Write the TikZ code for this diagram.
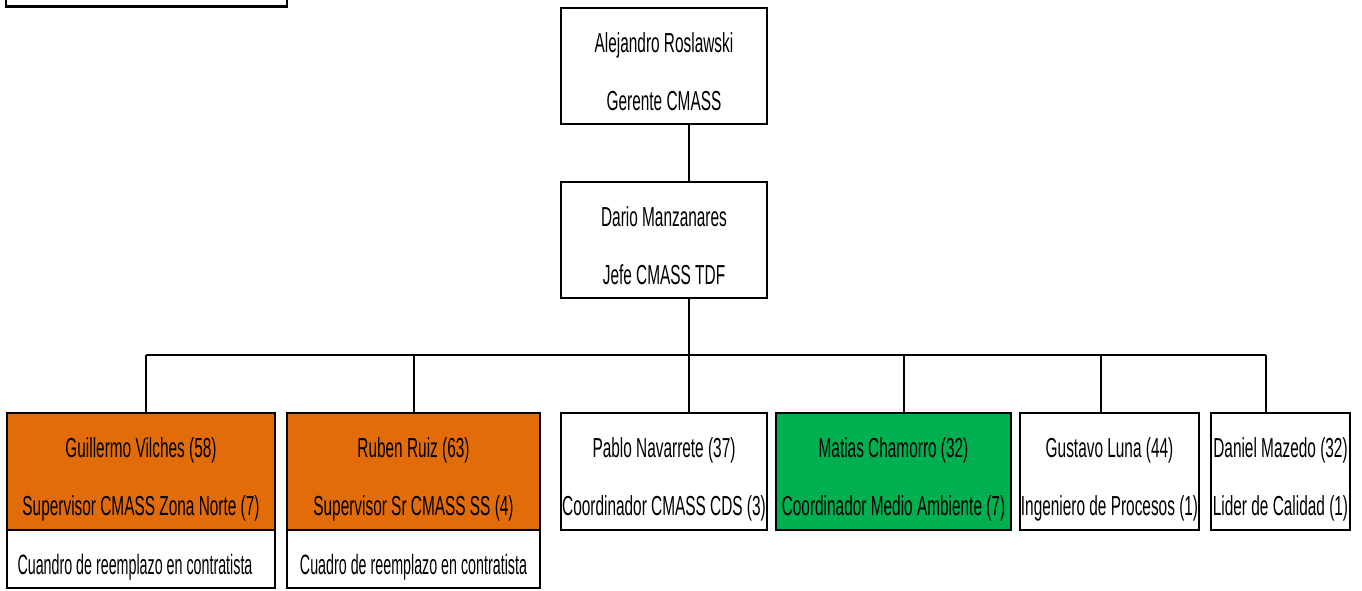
\documentclass[tikz,border=0pt]{standalone}
\usepackage{fontspec}
\usetikzlibrary{calc}
\setmainfont[FakeStretch=0.56]{Liberation Sans}
\newfontfamily\narrowsans[FakeStretch=0.51]{Liberation Sans}
\definecolor{orgorange}{HTML}{E36C0A}
\definecolor{orggreen}{HTML}{00B050}
\begin{document}
\begin{tikzpicture}[x=1pt,y=-1pt,
  orgbox/.style={draw=black, line width=2.6pt, fill=white, inner sep=0pt},
  txt/.style={anchor=base, inner sep=0pt, font=\fontsize{27.5}{30}\selectfont},
  subtxt/.style={txt, font=\narrowsans\fontsize{28}{30}\selectfont},
  conn/.style={draw=black, line width=1.8pt}]
\useasboundingbox (0,0) rectangle (1362,590);
\fill[white] (0,0) rectangle (1362,590);
% partial box at top left
\draw[line width=2.6pt] (6,-3) -- (6,6.5) -- (287,6.5) -- (287,-3);
% boxes
\node[orgbox, minimum width=206pt, minimum height=116pt] (a) at (664,66) {};
\node[orgbox, minimum width=206pt, minimum height=116pt] (b) at (664,240) {};
\node[orgbox, fill=orgorange, minimum width=268pt, minimum height=117pt] (g) at (141,471.5) {};
\node[orgbox, minimum width=268pt, minimum height=58pt] (gs) at (141,559) {};
\node[orgbox, fill=orgorange, minimum width=253pt, minimum height=117pt] (r) at (413.5,471.5) {};
\node[orgbox, minimum width=253pt, minimum height=58pt] (rs) at (413.5,559) {};
\node[orgbox, minimum width=206pt, minimum height=117pt] (p) at (664,471.5) {};
\node[orgbox, fill=orggreen, minimum width=235pt, minimum height=117pt] (m) at (893.5,471.5) {};
\node[orgbox, minimum width=179pt, minimum height=117pt] (u) at (1109.5,471.5) {};
\node[orgbox, minimum width=139pt, minimum height=117pt] (d) at (1280.5,471.5) {};
% texts
\foreach \n/\first/\second in {
  a/Alejandro Roslawski/Gerente CMASS,
  b/Dario Manzanares/Jefe CMASS TDF,
  g/Guillermo Vilches (58)/Supervisor CMASS Zona Norte (7),
  r/Ruben Ruiz (63)/Supervisor Sr CMASS SS (4),
  p/Pablo Navarrete (37)/Coordinador CMASS CDS (3),
  m/Matias Chamorro (32)/Coordinador Medio Ambiente (7),
  u/Gustavo Luna (44)/Ingeniero de Procesos (1),
  d/Daniel Mazedo (32)/Lider de Calidad (1)}{
  \node[txt] (\n1) at ($(\n.north)+(0,46)$) {\first};
  \node[txt] (\n2) at ($(\n.north)+(0,104)$) {\second};
}
\node[subtxt] (gs1) at ($(gs.north)+(-6,46)$) {Cuandro de reemplazo en contratista};
\node[subtxt] (rs1) at ($(rs.north)+(0,46)$) {Cuadro de reemplazo en contratista};
% connector points
\coordinate (ab) at (689,124);
\coordinate (jg) at (146,355);
\coordinate (jr) at (414,355);
\coordinate (jp) at (689,355);
\coordinate (jm) at (904,355);
\coordinate (ju) at (1101,355);
\coordinate (jd) at (1266,355);
\draw[conn] (a.south -| ab) -- (b.north -| ab);
\draw[conn] (b.south -| jp) -- (jp);
\draw[conn] (jg) -- (jd);
\draw[conn] (jg) -- (g.north -| jg);
\draw[conn] (jr) -- (r.north -| jr);
\draw[conn] (jp) -- (p.north -| jp);
\draw[conn] (jm) -- (m.north -| jm);
\draw[conn] (ju) -- (u.north -| ju);
\draw[conn] (jd) -- (d.north -| jd);
\end{tikzpicture}
\end{document}
